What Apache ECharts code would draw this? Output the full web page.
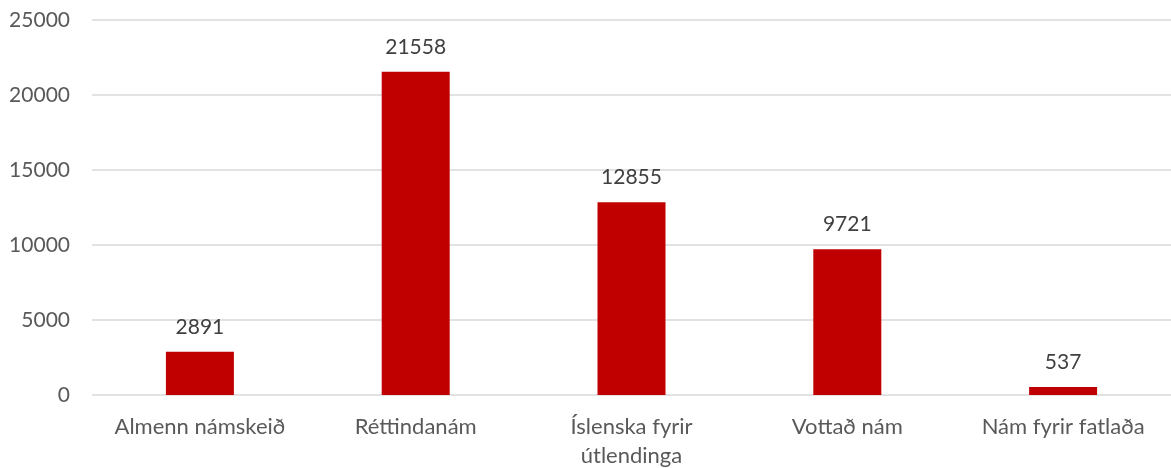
<!DOCTYPE html>
<html><head><meta charset="utf-8">
<script src="https://cdn.jsdelivr.net/npm/echarts@6/dist/echarts.min.js"></script>
<style>html,body{margin:0;padding:0;background:#fff}#c{width:1171px;height:468px}</style>
</head><body><div id="c"></div>
<script>
const categories = ["Almenn námskeið", "Réttindanám", "Íslenska fyrir\nútlendinga", "Vottað nám", "Nám fyrir fatlaða"];
const values = [2891, 21558, 12855, 9721, 537];
const yTicks = [0, 5000, 10000, 15000, 20000, 25000];

const chart = echarts.init(document.getElementById('c'));
chart.setOption({
  animation: false,
  grid: {left: 92, right: 0, top: 20, bottom: 73, outerBoundsMode: 'none', containLabel: false},
  xAxis: {
    type: 'category', data: categories,
    axisLine: {show: false}, axisTick: {show: false},
    axisLabel: {color: '#595959', fontFamily: 'Lato', fontSize: 22, margin: 17, lineHeight: 29, interval: 0}
  },
  yAxis: {
    type: 'value', min: yTicks[0], max: yTicks[yTicks.length-1], interval: 5000,
    axisLine: {show: false}, axisTick: {show: false},
    axisLabel: {color: '#595959', fontFamily: 'Lato', fontSize: 21, margin: 22, formatter: v => String(v)},
    splitLine: {lineStyle: {color: '#d9d9d9', width: 1.5}}
  },
  series: [{
    type: 'bar', data: values, barWidth: 68,
    itemStyle: {color: '#c00000'},
    label: {show: true, position: 'top', distance: 14, color: '#404040', fontFamily: 'Lato', fontSize: 21}
  }]
});
</script></body></html>
